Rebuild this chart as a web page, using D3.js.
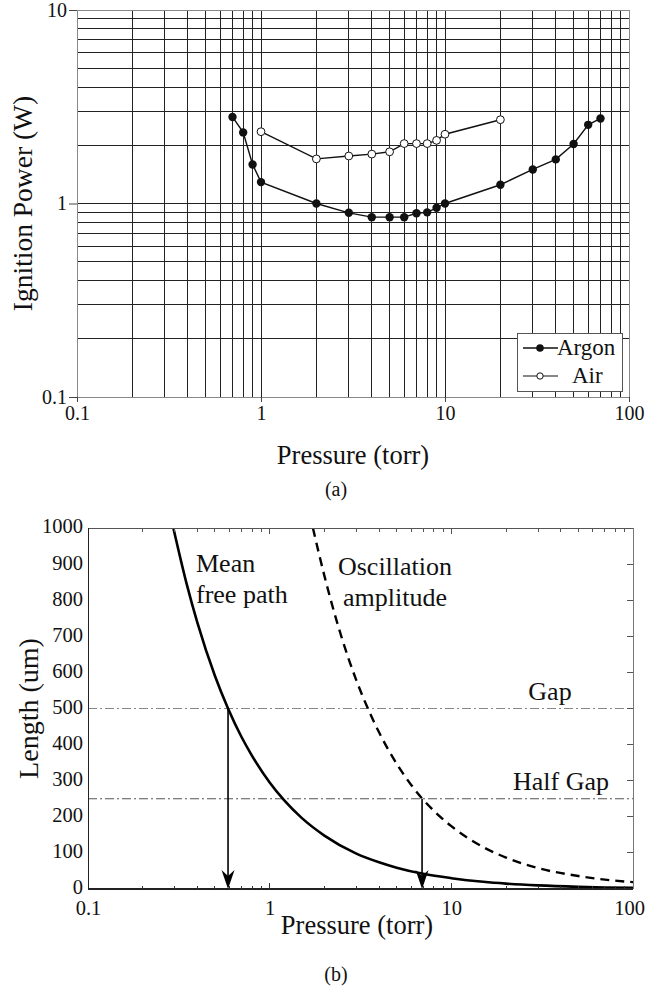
<!DOCTYPE html>
<html>
<head>
<meta charset="utf-8">
<script src="https://cdn.jsdelivr.net/npm/d3@7"></script>
<style>
html,body{margin:0;padding:0;background:#fff;}
svg{display:block;}
text{font-family:"Liberation Serif","Times New Roman",serif;fill:#111;}
</style>
</head>
<body>
<script>
// ---------- Data: chart (a) ----------
const argonPressure = [0.7, 0.8, 0.9, 1, 2, 3, 4, 5, 6, 7, 8, 9, 10, 20, 30, 40, 50, 60, 70];
const argonPower    = [2.8, 2.33, 1.59, 1.29, 1.0, 0.895, 0.85, 0.85, 0.85, 0.89, 0.90, 0.95, 1.0, 1.25, 1.5, 1.69, 2.03, 2.55, 2.75];
const airPressure   = [1, 2, 3, 4, 5, 6, 7, 8, 9, 10, 20];
const airPower      = [2.35, 1.7, 1.76, 1.8, 1.85, 2.04, 2.04, 2.04, 2.12, 2.28, 2.71];
const seriesNames   = ["Argon", "Air"];
const xTicksA = [0.1, 1, 10, 100];
const xTickLabelsA = ["0.1", "1", "10", "100"];
const yTicksA = [0.1, 1, 10];
const yTickLabelsA = ["0.1", "1", "10"];

// ---------- Data: chart (b) ----------
const mfpPressure = [0.295, 0.35, 0.4, 0.5, 0.59, 0.7, 0.8, 1, 1.2, 1.5, 2, 3, 4, 5, 7, 10, 15, 20, 30, 50, 70, 100];
const mfpLength   = [1000, 843, 738, 590, 500, 421, 369, 295, 246, 197, 148, 98, 74, 59, 42, 30, 20, 15, 10, 6, 4.2, 3];
const oscPressure = [1.73, 2, 2.5, 3, 3.5, 4, 5, 6, 6.9, 8, 10, 15, 20, 30, 50, 70, 100];
const oscLength   = [1000, 868, 694, 578, 496, 434, 347, 289, 251, 217, 174, 116, 87, 58, 36, 26, 19];
const gapValue = 500;
const halfGapValue = 250;
const arrowPressures = [0.59, 6.9];
const arrowStarts    = [500, 250];
const xTicksB = [0.1, 1, 10, 100];
const xTickLabelsB = ["0.1", "1", "10", "100"];
const yTicksB = [0, 100, 200, 300, 400, 500, 600, 700, 800, 900, 1000];

const W = 647, H = 990;
const svg = d3.select("body").append("svg").attr("width", W).attr("height", H);
const FONT = "Liberation Serif, Times New Roman, serif";

// =============== Chart (a) ===============
const A = {l: 77, r: 629, t: 10, b: 397};
const xA = d3.scaleLog().domain([0.1, 100]).range([A.l, A.r]);
const yA = d3.scaleLog().domain([0.1, 10]).range([A.b, A.t]);
const gA = svg.append("g");

// grid
gA.append("g").selectAll("line").data(xA.ticks()).join("line")
  .attr("x1", d => xA(d)).attr("x2", d => xA(d)).attr("y1", A.t).attr("y2", A.b)
  .attr("stroke", "#222").attr("stroke-width", 1).attr("shape-rendering", "crispEdges");
gA.append("g").selectAll("line").data(yA.ticks()).join("line")
  .attr("y1", d => yA(d)).attr("y2", d => yA(d)).attr("x1", A.l).attr("x2", A.r)
  .attr("stroke", "#222").attr("stroke-width", 1).attr("shape-rendering", "crispEdges");
gA.append("rect").attr("x", A.l).attr("y", A.t).attr("width", A.r - A.l).attr("height", A.b - A.t)
  .attr("fill", "none").attr("stroke", "#888").attr("shape-rendering", "crispEdges");

// axes
const axBA = d3.axisBottom(xA).tickValues(xTicksA).tickSize(5).tickPadding(4)
  .tickFormat((d, i) => xTickLabelsA[i]);
gA.append("g").attr("transform", `translate(0,${A.b})`).call(axBA)
  .call(g => { g.attr("font-family", FONT); g.select(".domain").remove(); g.selectAll("line").attr("stroke", "#444");
               g.selectAll("text").attr("font-size", 20).attr("fill", "#111"); });
const axLA = d3.axisLeft(yA).tickValues(yTicksA).tickSize(8).tickPadding(2)
  .tickFormat((d, i) => yTickLabelsA[i]);
gA.append("g").attr("transform", `translate(${A.l},0)`).call(axLA)
  .call(g => { g.attr("font-family", FONT); g.select(".domain").remove(); g.selectAll("line").attr("stroke", "#444");
               g.selectAll("text").attr("font-size", 20).attr("fill", "#111"); });

// titles
gA.append("text").attr("x", (A.l + A.r) / 2).attr("y", 464).attr("text-anchor", "middle")
  .attr("font-size", 26.5).text("Pressure (torr)");
gA.append("text").attr("transform", `translate(32,${(A.t + A.b) / 2}) rotate(-90)`)
  .attr("text-anchor", "middle").attr("font-size", 27.5).text("Ignition Power (W)");
gA.append("text").attr("x", 336).attr("y", 496).attr("text-anchor", "middle")
  .attr("font-size", 20).text("(a)");

// series
const lineA = d3.line().x(d => xA(d[0])).y(d => yA(d[1]));
const argon = argonPressure.map((p, i) => [p, argonPower[i]]);
const air = airPressure.map((p, i) => [p, airPower[i]]);
gA.append("path").datum(air).attr("d", lineA).attr("fill", "none").attr("stroke", "#111").attr("stroke-width", 1.4);
gA.append("path").datum(argon).attr("d", lineA).attr("fill", "none").attr("stroke", "#111").attr("stroke-width", 1.4);
gA.append("g").selectAll("circle").data(air).join("circle")
  .attr("cx", d => xA(d[0])).attr("cy", d => yA(d[1])).attr("r", 3.9)
  .attr("fill", "#fff").attr("stroke", "#111").attr("stroke-width", 1);
gA.append("g").selectAll("circle").data(argon).join("circle")
  .attr("cx", d => xA(d[0])).attr("cy", d => yA(d[1])).attr("r", 4.2)
  .attr("fill", "#111");

// legend
const lg = gA.append("g").attr("transform", "translate(517,333)");
lg.append("rect").attr("width", 105).attr("height", 58).attr("fill", "#fff")
  .attr("stroke", "#555").attr("shape-rendering", "crispEdges");
lg.append("line").attr("x1", 6).attr("x2", 41).attr("y1", 15).attr("y2", 15).attr("stroke", "#111").attr("stroke-width", 1.4);
lg.append("circle").attr("cx", 23).attr("cy", 15).attr("r", 3.8).attr("fill", "#111");
lg.append("text").attr("x", 40).attr("y", 22).attr("font-size", 23).text(seriesNames[0]);
lg.append("line").attr("x1", 6).attr("x2", 41).attr("y1", 43).attr("y2", 43).attr("stroke", "#111").attr("stroke-width", 1.1);
lg.append("circle").attr("cx", 23).attr("cy", 43).attr("r", 3.2).attr("fill", "#fff").attr("stroke", "#111");
lg.append("text").attr("x", 55).attr("y", 50).attr("font-size", 23).text(seriesNames[1]);

// =============== Chart (b) ===============
const B = {l: 88, r: 633, t: 528, b: 889};
const xB = d3.scaleLog().domain([0.1, 100]).range([B.l, B.r]);
const yB = d3.scaleLinear().domain([0, 1000]).range([B.b, B.t]);
const gB = svg.append("g");

svg.append("defs").append("clipPath").attr("id", "clipB").append("rect")
  .attr("x", B.l).attr("y", B.t).attr("width", B.r - B.l).attr("height", B.b - B.t);

// reference lines
gB.append("line").attr("x1", B.l).attr("x2", B.r).attr("y1", yB(gapValue)).attr("y2", yB(gapValue))
  .attr("stroke", "#888").attr("stroke-width", 1).attr("stroke-dasharray", "9,3,2,3");
gB.append("line").attr("x1", B.l).attr("x2", B.r).attr("y1", yB(halfGapValue)).attr("y2", yB(halfGapValue))
  .attr("stroke", "#555").attr("stroke-width", 1).attr("stroke-dasharray", "9,3,2,3");

// curves
const lineB = d3.line().x(d => xB(d[0])).y(d => yB(d[1])).curve(d3.curveMonotoneX);
const mfp = mfpPressure.map((p, i) => [p, mfpLength[i]]);
const osc = oscPressure.map((p, i) => [p, oscLength[i]]);
const curves = gB.append("g").attr("clip-path", "url(#clipB)");
curves.append("path").datum(mfp).attr("d", lineB).attr("fill", "none")
  .attr("stroke", "#000").attr("stroke-width", 2.6);
curves.append("path").datum(osc).attr("d", lineB).attr("fill", "none")
  .attr("stroke", "#000").attr("stroke-width", 2.4).attr("stroke-dasharray", "9,6");

// arrows
arrowPressures.forEach((p, i) => {
  const x = xB(p), y0 = yB(arrowStarts[i]), tip = yB(0);
  gB.append("line").attr("x1", x).attr("x2", x).attr("y1", y0).attr("y2", tip - 8)
    .attr("stroke", "#000").attr("stroke-width", 1.6);
  gB.append("path")
    .attr("d", `M${x},${tip} L${x - 6.5},${tip - 19} L${x},${tip - 13} L${x + 6.5},${tip - 19} Z`)
    .attr("fill", "#000");
});

// frame
gB.append("line").attr("x1", B.l).attr("x2", B.r).attr("y1", B.t).attr("y2", B.t).attr("stroke", "#555").attr("shape-rendering", "crispEdges");
gB.append("line").attr("x1", B.r).attr("x2", B.r).attr("y1", B.t).attr("y2", B.b).attr("stroke", "#777").attr("shape-rendering", "crispEdges");
gB.append("line").attr("x1", B.l).attr("x2", B.l).attr("y1", B.t).attr("y2", B.b).attr("stroke", "#222").attr("shape-rendering", "crispEdges");
gB.append("line").attr("x1", B.l).attr("x2", B.r).attr("y1", B.b).attr("y2", B.b).attr("stroke", "#222").attr("stroke-width", 1.3).attr("shape-rendering", "crispEdges");

// inner ticks
const minorB = xB.ticks().filter(d => d > 0.1 && d < 100);
gB.append("g").selectAll("line").data(minorB).join("line")
  .attr("x1", d => xB(d)).attr("x2", d => xB(d)).attr("y1", B.b).attr("y2", d => B.b - (xTicksB.includes(d) ? 6 : 3.5))
  .attr("stroke", "#333").attr("shape-rendering", "crispEdges");
gB.append("g").selectAll("line").data(minorB).join("line")
  .attr("x1", d => xB(d)).attr("x2", d => xB(d)).attr("y1", B.t).attr("y2", d => B.t + (xTicksB.includes(d) ? 6 : 3.5))
  .attr("stroke", "#555").attr("shape-rendering", "crispEdges");
gB.append("g").selectAll("line").data(yTicksB.slice(1, -1)).join("line")
  .attr("x1", B.r).attr("x2", B.r - 6).attr("y1", d => yB(d)).attr("y2", d => yB(d))
  .attr("stroke", "#555").attr("shape-rendering", "crispEdges");

// tick labels
const axBB = d3.axisBottom(xB).tickValues(xTicksB).tickSize(0).tickPadding(12)
  .tickFormat((d, i) => xTickLabelsB[i]);
gB.append("g").attr("transform", `translate(0,${B.b})`).call(axBB)
  .call(g => { g.attr("font-family", FONT); g.select(".domain").remove();
               g.selectAll("text").attr("font-size", 20.5).attr("fill", "#111")
                 .attr("dy", "0.66em")
                 .attr("dx", (d, i) => i === xTicksB.length - 1 ? -4 : 0); });
const axLB = d3.axisLeft(yB).tickValues(yTicksB).tickSize(0).tickPadding(5)
  .tickFormat(d3.format("d"));
gB.append("g").attr("transform", `translate(${B.l},0)`).call(axLB)
  .call(g => { g.attr("font-family", FONT); g.select(".domain").remove();
               g.selectAll("text").attr("font-size", 20.5).attr("fill", "#111").attr("dy", "0.24em"); });

// titles
gB.append("text").attr("x", 357).attr("y", 934).attr("text-anchor", "middle")
  .attr("font-size", 26.5).text("Pressure (torr)");
gB.append("text").attr("transform", `translate(38,${(B.t + B.b) / 2}) rotate(-90)`)
  .attr("text-anchor", "middle").attr("font-size", 28).text("Length (um)");
gB.append("text").attr("x", 336).attr("y", 981).attr("text-anchor", "middle")
  .attr("font-size", 20).text("(b)");

// annotations
const ann = [
  {t: "Mean", x: 196, y: 572, a: "start"},
  {t: "free path", x: 196, y: 603, a: "start"},
  {t: "Oscillation", x: 395, y: 575, a: "middle"},
  {t: "amplitude", x: 395, y: 606, a: "middle"},
  {t: "Gap", x: 550, y: 700, a: "middle"},
  {t: "Half Gap", x: 561, y: 790, a: "middle"}
];
gB.append("g").selectAll("text").data(ann).join("text")
  .attr("x", d => d.x).attr("y", d => d.y).attr("text-anchor", d => d.a)
  .attr("font-size", 26).text(d => d.t);
</script>
</body>
</html>
